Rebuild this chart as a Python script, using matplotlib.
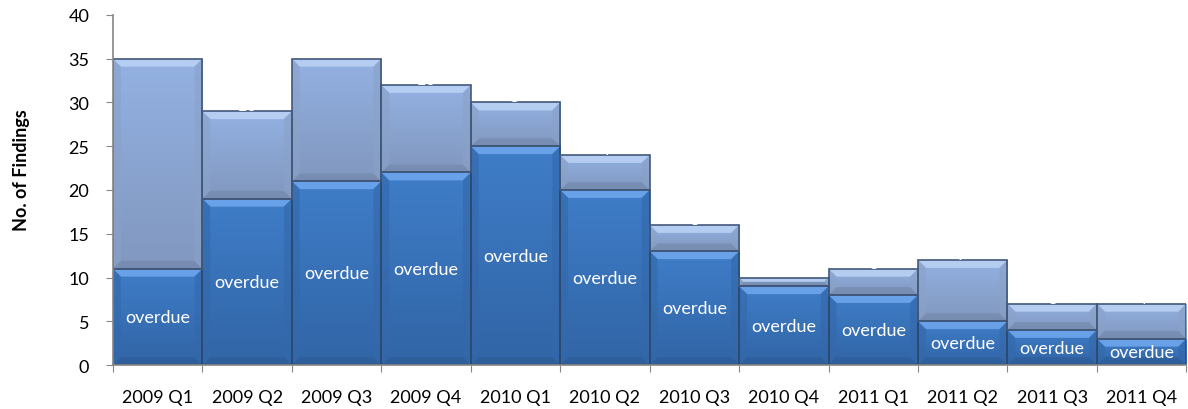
import matplotlib
matplotlib.use("Agg")
import matplotlib.pyplot as plt
import numpy as np
from matplotlib.colors import to_rgb
from matplotlib.patches import Polygon

plt.rcParams['font.family'] = ['Lato', 'DejaVu Sans']

quarters = ["2009 Q1", "2009 Q2", "2009 Q3", "2009 Q4", "2010 Q1", "2010 Q2",
            "2010 Q3", "2010 Q4", "2011 Q1", "2011 Q2", "2011 Q3", "2011 Q4"]
overdue = [11, 19, 21, 22, 25, 20, 13, 9, 8, 5, 4, 3]
not_overdue = [24, 10, 14, 10, 5, 4, 3, 1, 3, 7, 3, 4]
overdue_label = "overdue"
y_label = "No. of Findings"
y_ticks = [0, 5, 10, 15, 20, 25, 30, 35, 40]

fig = plt.figure(figsize=(11.88, 4.10), dpi=100)
ax = fig.add_axes([0.0951, 0.1073, 0.9035, 0.8537])

x = np.arange(len(quarters))

styles = {
    "dark": dict(g_top="#3f7dc8", g_bot="#3165a6", bev_top="#6ea6ec", side="#3468aa",
                 bev_bot="#2c5a92", edge="#2b4b72"),
    "light": dict(g_top="#93b1e2", g_bot="#8198bf", bev_top="#b9d1f4", side="#8aa2c8",
                  bev_bot="#6f82a3", edge="#43597b"),
}

def decorate(bars, st):
    for p in bars:
        x0, y0 = p.get_x(), p.get_y()
        w, h = p.get_width(), p.get_height()
        x1, y1 = x0 + w, y0 + h
        p.set_facecolor("none")
        c1 = np.array(to_rgb(st["g_top"]))
        c2 = np.array(to_rgb(st["g_bot"]))
        t = np.linspace(0, 1, 64)[:, None]
        grad = (c1 * (1 - t) + c2 * t)[:, None, :]
        im = ax.imshow(grad, extent=(x0, x1, y0, y1), aspect="auto",
                       origin="upper", zorder=1, interpolation="bilinear")
        im.set_clip_path(p)
        by = min(0.9, h / 2.0)
        bx = by * 0.098
        polys = [
            ([(x0, y1), (x1, y1), (x1 - bx, y1 - by), (x0 + bx, y1 - by)], st["bev_top"], 0.9),
            ([(x0, y0), (x1, y0), (x1 - bx, y0 + by), (x0 + bx, y0 + by)], st["bev_bot"], 0.5),
            ([(x0, y0), (x0, y1), (x0 + bx, y1 - by), (x0 + bx, y0 + by)], st["side"], 0.6),
            ([(x1, y0), (x1, y1), (x1 - bx, y1 - by), (x1 - bx, y0 + by)], st["side"], 0.6),
        ]
        for pts, col, a in polys:
            ax.add_patch(Polygon(pts, closed=True, facecolor=col, edgecolor="none",
                                 alpha=a, zorder=2))
        p.set_zorder(3)

b1 = ax.bar(x, overdue, width=1.0, edgecolor=styles["dark"]["edge"], linewidth=1.2)
b2 = ax.bar(x, not_overdue, width=1.0, bottom=overdue,
            edgecolor=styles["light"]["edge"], linewidth=1.2)
decorate(b1, styles["dark"])
decorate(b2, styles["light"])

for xi, v in zip(x, overdue):
    ax.text(xi, v / 2.0, overdue_label, ha="center", va="center", color="white",
            fontsize=13, zorder=5)

for xi, v, t in zip(x, overdue, not_overdue):
    ax.text(xi, v + t - 0.2, str(t), ha="center", va="bottom", color="white",
            fontsize=13, zorder=5)

ax.set_xlim(-0.5, len(quarters) - 0.5)
ax.set_ylim(0, 40)
ax.set_yticks(y_ticks)
ax.set_yticklabels([str(v) for v in y_ticks], fontsize=13)
ax.set_xticks(np.arange(-0.5, len(quarters) + 0.5, 1.0))
ax.set_xticklabels([])
ax.set_xticks(x, minor=True)
ax.set_xticklabels(quarters, minor=True, fontsize=13)
ax.tick_params(axis="x", which="minor", length=0, pad=17)
ax.tick_params(axis="x", which="major", length=5, color="#868686", direction="out")
ax.tick_params(axis="y", length=5, color="#868686", direction="out", pad=12)

for s in ["top", "right"]:
    ax.spines[s].set_visible(False)
for s in ["left", "bottom"]:
    ax.spines[s].set_color("#868686")
    ax.spines[s].set_linewidth(1.2)
    ax.spines[s].set_zorder(6)

fig.text(0.018, 0.585, y_label, rotation=90, ha="center", va="center",
         fontsize=13, fontweight="bold")

fig.savefig("out.png", dpi=100)
